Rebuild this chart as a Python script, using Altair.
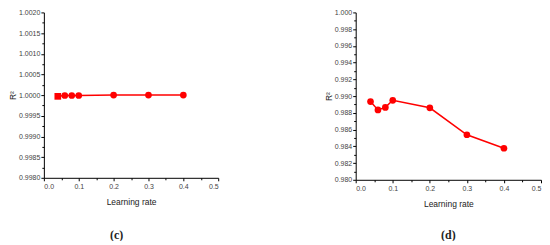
import altair as alt
import pandas as pd

# Data
learning_rate = [0.04, 0.06, 0.08, 0.1, 0.2, 0.3, 0.4]
r2_c = [0.99997, 0.99999, 0.99999, 0.99999, 1.00000, 1.00000, 1.00000]
r2_d = [0.98935, 0.98835, 0.98865, 0.98950, 0.98860, 0.98538, 0.98377]

x_major = [0.0, 0.1, 0.2, 0.3, 0.4, 0.5]
x_minor = [0.05, 0.15, 0.25, 0.35, 0.45]
yc_major = [0.998, 0.9985, 0.999, 0.9995, 1.0, 1.0005, 1.001, 1.0015, 1.002]
yc_minor = [0.99825, 0.99875, 0.99925, 0.99975, 1.00025, 1.00075, 1.00125, 1.00175]
yd_major = [0.980, 0.982, 0.984, 0.986, 0.988, 0.990, 0.992, 0.994, 0.996, 0.998, 1.000]
yd_minor = [0.981, 0.983, 0.985, 0.987, 0.989, 0.991, 0.993, 0.995, 0.997, 0.999]

FONT = "Liberation Sans"


def panel(values, ydom, ymaj, ymin, fmt, w, h, label, lab_x, lab_y, square_first):
    df = pd.DataFrame({"lr": learning_rate, "r2": values})
    base = alt.Chart(df)
    xs = alt.Scale(domain=[0, 0.5], nice=False, zero=False)
    ys = alt.Scale(domain=ydom, nice=False, zero=False)
    x_main = alt.X("lr:Q", scale=xs, axis=alt.Axis(values=x_major, format=".1f",
                   title="Learning rate", orient="bottom", tickSize=3, labelPadding=2,
                   titlePadding=8))
    y_main = alt.Y("r2:Q", scale=ys, axis=alt.Axis(values=ymaj, format=fmt, title="R²",
                   orient="left", tickSize=3, labelPadding=1, titlePadding=1))
    x_min = alt.X("lr:Q", scale=xs, axis=alt.Axis(values=x_minor, labels=False, title=None,
                  orient="bottom", tickSize=2, domain=False))
    y_min = alt.Y("r2:Q", scale=ys, axis=alt.Axis(values=ymin, labels=False, title=None,
                  orient="left", tickSize=2, domain=False))
    minor = base.mark_point(opacity=0).encode(x=x_min, y=y_min)
    line = base.mark_line(color="#ff0000", strokeWidth=1.5).encode(x=x_main, y=y_main)
    if square_first:
        shape = alt.condition("datum.lr == 0.04", alt.value("square"), alt.value("circle"))
    else:
        shape = alt.value("circle")
    pts = base.mark_point(filled=True, color="#ff0000", size=45, opacity=1).encode(
        x=alt.X("lr:Q", scale=xs, axis=None), y=alt.Y("r2:Q", scale=ys, axis=None), shape=shape)
    txt = alt.Chart(pd.DataFrame({"t": [label]})).mark_text(
        font="Liberation Serif", fontSize=12, fontWeight="bold", color="#222"
    ).encode(text="t:N", x=alt.value(lab_x), y=alt.value(lab_y))
    return alt.layer(line, minor, pts, txt).resolve_axis(x="independent", y="independent") \
        .properties(width=w, height=h)


left = panel(r2_c, [0.998, 1.002], yc_major, yc_minor, ".4f", 175, 166, "(c)", 73, 223, True)
right = panel(r2_d, [0.980, 1.000], yd_major, yd_minor, ".3f", 186, 168, "(d)", 93, 223, False)

chart = alt.hconcat(left, right, spacing=105).properties(
    padding={"left": 0, "top": 0, "right": 0, "bottom": 0}
).configure_view(stroke=None).configure_axis(
    grid=False, domainColor="#000", tickColor="#000", labelColor="#444",
    titleColor="#222", labelFont=FONT, titleFont=FONT, labelFontSize=7,
    titleFontSize=8.5, titleFontWeight="normal", domainWidth=1, tickWidth=1
)

chart.save("out.html", embed_options={"renderer": "svg", "actions": False})
